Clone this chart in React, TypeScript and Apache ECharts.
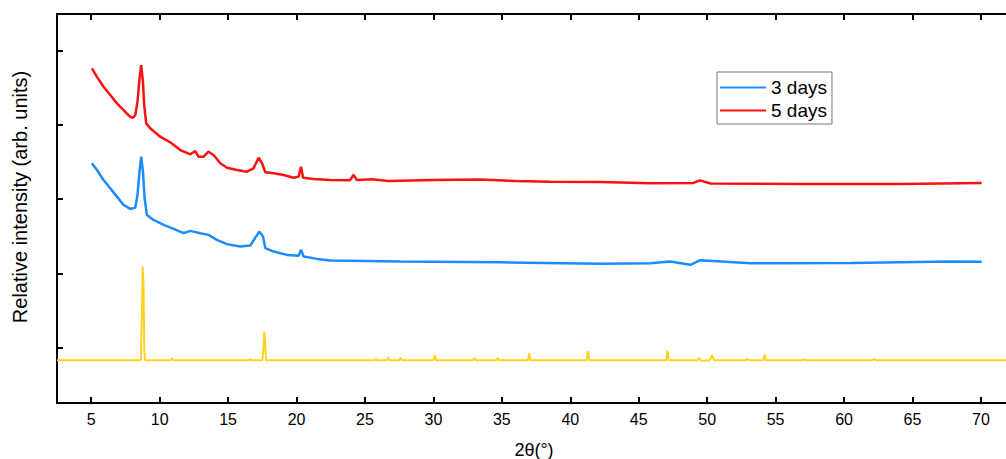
import React, { useEffect, useRef } from "react";
import * as echarts from "echarts";

// 2θ (°) / relative intensity (arb. units, traces offset vertically)
const days5: [number, number][] = [
  [5.05, 4.765], [5.42, 4.652], [5.9, 4.518], [6.39, 4.406], [6.88, 4.294],
  [7.36, 4.203], [7.85, 4.113], [8.05, 4.1], [8.22, 4.136], [8.38, 4.315],
  [8.53, 4.631], [8.65, 4.81], [8.78, 4.585], [8.87, 4.271], [9.02, 4.024],
  [9.31, 3.957], [10.04, 3.844], [10.77, 3.768], [11.51, 3.664], [12.24, 3.606],
  [12.6, 3.651], [12.84, 3.574], [13.21, 3.574], [13.57, 3.641], [13.94, 3.597],
  [14.43, 3.485], [14.92, 3.426], [15.65, 3.395], [16.38, 3.372], [16.86, 3.418],
  [17.23, 3.561], [17.48, 3.485], [17.72, 3.364], [18.33, 3.35], [19.06, 3.327],
  [19.79, 3.291], [20.15, 3.305], [20.33, 3.439], [20.48, 3.291], [21.25, 3.274],
  [22.47, 3.261], [23.9, 3.255], [24.17, 3.33], [24.4, 3.26], [25.5, 3.27],
  [26.7, 3.245], [30.0, 3.26], [33.4, 3.265], [36.0, 3.245], [38.55, 3.237],
  [42.2, 3.233], [45.86, 3.216], [49.0, 3.22], [49.47, 3.255], [50.25, 3.213],
  [56.8, 3.206], [64.1, 3.206], [70.06, 3.22],
];

const days3: [number, number][] = [
  [5.05, 3.485], [5.42, 3.395], [5.9, 3.26], [6.39, 3.148], [6.88, 3.035],
  [7.36, 2.923], [7.85, 2.869], [8.22, 2.887], [8.38, 3.058], [8.53, 3.372],
  [8.65, 3.574], [8.78, 3.372], [8.9, 3.013], [9.07, 2.788], [9.55, 2.721],
  [10.29, 2.654], [11.02, 2.6], [11.75, 2.542], [12.24, 2.573], [12.97, 2.542],
  [13.57, 2.519], [14.18, 2.452], [14.92, 2.394], [15.89, 2.361], [16.62, 2.375],
  [17.04, 2.496], [17.28, 2.563], [17.55, 2.496], [17.72, 2.34], [18.33, 2.294],
  [19.31, 2.249], [20.15, 2.236], [20.33, 2.317], [20.52, 2.226], [21.5, 2.195],
  [22.47, 2.173], [27.59, 2.159], [34.9, 2.148], [42.2, 2.128], [45.86, 2.137],
  [47.3, 2.159], [48.77, 2.115], [49.5, 2.178], [53.17, 2.137], [60.5, 2.141],
  [67.8, 2.159], [70.06, 2.155],
];

const reference: [number, number][] = [
  [2.5, 0.8275], [8.62, 0.8275], [8.7, 1.418], [8.76, 2.09], [8.82, 1.84],
  [8.88, 0.95], [8.94, 0.8275], [10.8, 0.8275], [10.9, 0.857], [11.0, 0.8275],
  [16.5, 0.8275], [16.6, 0.843], [16.7, 0.8275], [17.5, 0.8275], [17.58, 0.97],
  [17.64, 1.215], [17.7, 1.1], [17.77, 0.8275], [25.7, 0.8275], [25.8, 0.84],
  [25.9, 0.8275], [26.6, 0.8275], [26.7, 0.868], [26.8, 0.8275], [27.5, 0.8275],
  [27.6, 0.865], [27.7, 0.8275], [30.0, 0.8275], [30.1, 0.895], [30.2, 0.8275],
  [32.9, 0.8275], [33.0, 0.862], [33.1, 0.8275], [34.6, 0.8275], [34.7, 0.862],
  [34.8, 0.8275], [36.9, 0.8275], [37.0, 0.922], [37.1, 0.8275], [41.2, 0.8275],
  [41.3, 0.949], [41.4, 0.8275], [47.0, 0.8275], [47.1, 0.956], [47.2, 0.8275],
  [49.3, 0.8275], [49.4, 0.86], [49.5, 0.8275], [49.7, 0.82], [50.2, 0.8275],
  [50.35, 0.895], [50.5, 0.8275], [52.85, 0.8275], [52.95, 0.85], [53.05, 0.8275],
  [54.1, 0.8275], [54.2, 0.905], [54.3, 0.8275], [57.0, 0.8275], [57.1, 0.84],
  [57.2, 0.8275], [62.1, 0.8275], [62.2, 0.85], [62.3, 0.8275], [72.2, 0.8275],
];

const xTicks = [5, 10, 15, 20, 25, 30, 35, 40, 45, 50, 55, 60, 65, 70];
const yTicks = [1, 2, 3, 4, 5];
const legendNames = ["3 days", "5 days"];

const FONT = "'Liberation Sans', Arial, sans-serif";

export default function App() {
  const ref = useRef<HTMLDivElement>(null);
  useEffect(() => {
    if (!ref.current) return;
    const chart = echarts.init(ref.current, undefined, { renderer: "svg" });
    const axisLine = { show: true, lineStyle: { color: "#000", width: 2 } };
    const tickStyle = { color: "#000", width: 2 };
    const xBase = {
      type: "value" as const,
      min: 2.5,
      max: 72.2,
      splitLine: { show: false },
      axisLine,
      axisTick: { show: true, inside: true, length: 6, lineStyle: tickStyle, customValues: xTicks },
    };
    const yBase = {
      type: "value" as const,
      min: 0.25,
      max: 5.5,
      splitLine: { show: false },
      axisLine,
      axisLabel: { show: false },
    };
    chart.setOption({
      animation: false,
      grid: { left: 57, top: 14, width: 954, height: 389, containLabel: false, outerBoundsMode: "none" },
      xAxis: [
        {
          ...xBase,
          position: "bottom",
          name: "2θ(°)",
          nameLocation: "middle",
          nameGap: 38,
          nameTextStyle: { fontSize: 18, color: "#000", fontFamily: FONT },
          axisLabel: { show: true, customValues: xTicks, fontSize: 16, color: "#000", margin: 8, fontFamily: FONT },
        },
        { ...xBase, position: "top", axisLabel: { show: false } },
      ],
      yAxis: [
        {
          ...yBase,
          position: "left",
          axisTick: { show: true, inside: true, length: 6, lineStyle: tickStyle, customValues: yTicks },
        },
        {
          ...yBase,
          position: "right",
          axisTick: { show: true, inside: true, length: 5, lineStyle: tickStyle, customValues: yTicks },
        },
      ],
      legend: {
        data: legendNames,
        orient: "vertical",
        left: 717,
        top: 72,
        padding: [6, 5, 4, 2],
        itemWidth: 46,
        itemHeight: 14,
        itemGap: 4,
        borderColor: "#777",
        borderWidth: 1,
        borderRadius: 0,
        itemStyle: { opacity: 0 },
        textStyle: { fontSize: 19, color: "#000", fontFamily: FONT },
      },
      graphic: [
        {
          type: "text",
          x: 20,
          y: 197,
          rotation: Math.PI / 2,
          style: {
            text: "Relative intensity (arb. units)",
            fontSize: 20,
            fontFamily: FONT,
            fill: "#000",
            align: "center",
            verticalAlign: "middle",
          },
        },
      ],
      series: [
        {
          name: "Reference",
          type: "line",
          data: reference,
          showSymbol: false,
          symbol: "none",
          lineStyle: { color: "#FFD21F", width: 2 },
          itemStyle: { color: "#FFD21F" },
        },
        {
          name: "3 days",
          type: "line",
          data: days3,
          showSymbol: false,
          symbol: "none",
          lineStyle: { color: "#1A8CFF", width: 2.5 },
          itemStyle: { color: "#1A8CFF" },
        },
        {
          name: "5 days",
          type: "line",
          data: days5,
          showSymbol: false,
          symbol: "none",
          lineStyle: { color: "#FF1010", width: 2.5 },
          itemStyle: { color: "#FF1010" },
        },
      ],
    });
    return () => chart.dispose();
  }, []);
  return <div ref={ref} style={{ position: "absolute", left: 0, top: 0, width: 1006, height: 459 }} />;
}
